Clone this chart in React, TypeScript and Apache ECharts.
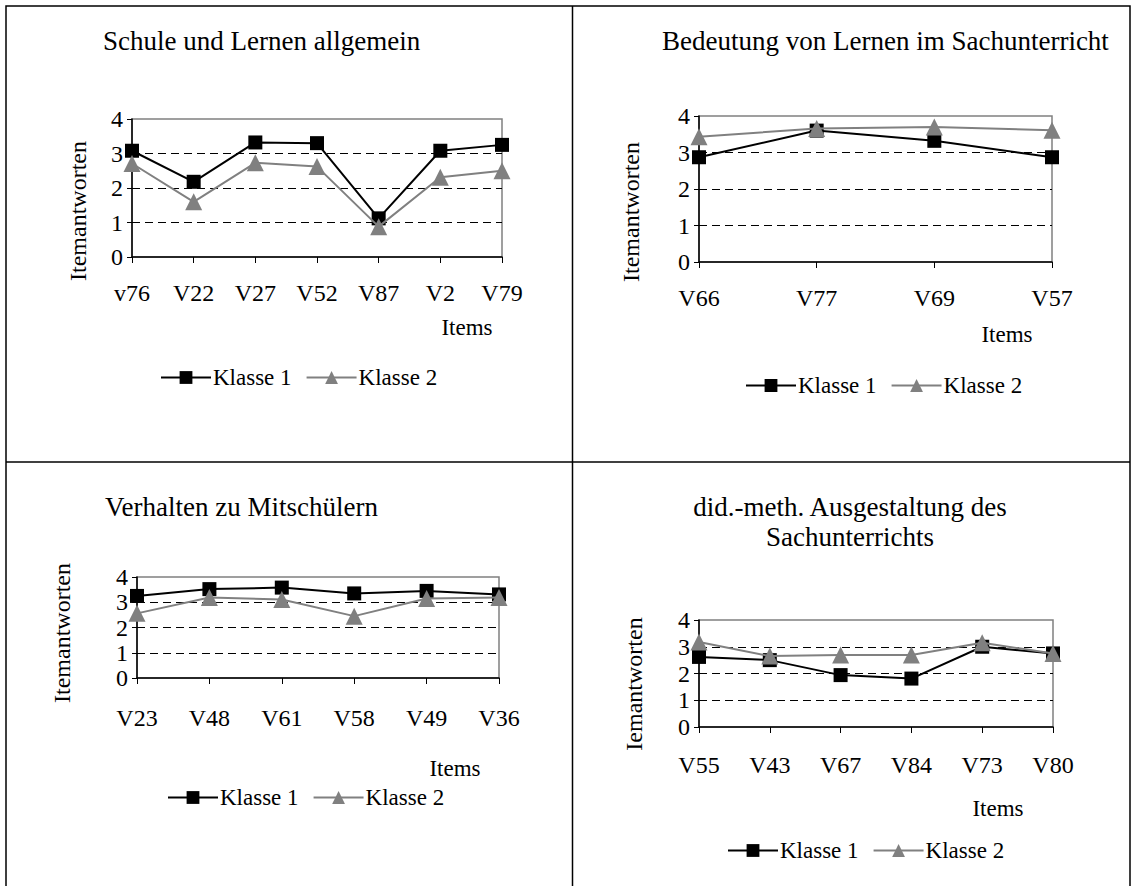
import React, { useEffect, useRef } from "react";
import * as echarts from "echarts";

const seriesNames = ["Klasse 1", "Klasse 2"];
const yTickValues = [0, 1, 2, 3, 4];

const p1Categories = ["v76", "V22", "V27", "V52", "V87", "V2", "V79"];
const p1Klasse1 = [3.08, 2.18, 3.32, 3.3, 1.12, 3.08, 3.25];
const p1Klasse2 = [2.71, 1.6, 2.73, 2.62, 0.88, 2.31, 2.5];

const p2Categories = ["V66", "V77", "V69", "V57"];
const p2Klasse1 = [2.87, 3.6, 3.32, 2.87];
const p2Klasse2 = [3.43, 3.66, 3.7, 3.61];

const p3Categories = ["V23", "V48", "V61", "V58", "V49", "V36"];
const p3Klasse1 = [3.25, 3.52, 3.58, 3.35, 3.45, 3.31];
const p3Klasse2 = [2.56, 3.19, 3.11, 2.45, 3.15, 3.19];

const p4Categories = ["V55", "V43", "V67", "V84", "V73", "V80"];
const p4Klasse1 = [2.62, 2.5, 1.94, 1.81, 3.0, 2.75];
const p4Klasse2 = [3.18, 2.65, 2.69, 2.69, 3.15, 2.75];

const FONT = "'Liberation Serif', 'Times New Roman', serif";
const FS = 23;
const TICK_FS = 24;
const TITLE_FS = 27;
const NAME_FS = 24;

const panels = [
  {
    title: ["Schule und Lernen allgemein"],
    titleX: 103, titleY: 41, titleAlign: "left",
    yName: "Itemantworten",
    cats: p1Categories, k1: p1Klasse1, k2: p1Klasse2,
    grid: { left: 132, top: 119, width: 370, height: 138 },
    labelMargin: 24,
    yNamePos: [78, 211],
    itemsPos: [467, 327],
    legend: { left: 155, top: 361 },
  },
  {
    title: ["Bedeutung von Lernen im Sachunterricht"],
    titleX: 662, titleY: 41, titleAlign: "left",
    yName: "Itemantworten",
    cats: p2Categories, k1: p2Klasse1, k2: p2Klasse2,
    grid: { left: 699, top: 116, width: 353, height: 146 },
    labelMargin: 24,
    yNamePos: [631, 212],
    itemsPos: [1007, 334],
    legend: { left: 740, top: 369 },
  },
  {
    title: ["Verhalten zu Mitschülern"],
    titleX: 105, titleY: 507, titleAlign: "left",
    yName: "Itemantworten",
    cats: p3Categories, k1: p3Klasse1, k2: p3Klasse2,
    grid: { left: 137, top: 577, width: 362, height: 101 },
    labelMargin: 28,
    yNamePos: [62, 633],
    itemsPos: [455, 768],
    legend: { left: 162, top: 781 },
  },
  {
    title: ["did.-meth. Ausgestaltung des", "Sachunterrichts"],
    titleX: 850, titleY: 507, titleAlign: "center",
    yName: "Iemantworten",
    cats: p4Categories, k1: p4Klasse1, k2: p4Klasse2,
    grid: { left: 699, top: 620, width: 354, height: 107 },
    labelMargin: 26,
    yNamePos: [634, 684],
    itemsPos: [998, 808],
    legend: { left: 722, top: 834 },
  },
];

function buildOption() {
  const grids: any[] = [];
  const xAxes: any[] = [];
  const yAxes: any[] = [];
  const series: any[] = [];
  const legends: any[] = [];
  const graphics: any[] = [];

  graphics.push({
    type: "rect",
    shape: { x: 6, y: 6, width: 1124, height: 900 },
    style: { fill: "none", stroke: "#000", lineWidth: 1.5 },
    silent: true,
  });
  graphics.push({
    type: "line",
    shape: { x1: 572.5, y1: 6, x2: 572.5, y2: 900 },
    style: { stroke: "#000", lineWidth: 1.5 },
    silent: true,
  });
  graphics.push({
    type: "line",
    shape: { x1: 6, y1: 462, x2: 1130, y2: 462 },
    style: { stroke: "#000", lineWidth: 1.5 },
    silent: true,
  });

  panels.forEach((p, i) => {
    grids.push({
      ...p.grid,
      show: true,
      borderColor: "#808080",
      borderWidth: 1.5,
      backgroundColor: "transparent",
    });
    xAxes.push({
      type: "category",
      gridIndex: i,
      data: p.cats,
      boundaryGap: false,
      axisLine: { lineStyle: { color: "#000", width: 1.5 } },
      axisTick: { show: true, length: 6, lineStyle: { color: "#000", width: 1 } },
      axisLabel: { color: "#000", fontFamily: FONT, fontSize: TICK_FS, margin: p.labelMargin, interval: 0 },
      splitLine: { show: false },
    });
    yAxes.push({
      type: "value",
      gridIndex: i,
      min: yTickValues[0],
      max: yTickValues[yTickValues.length - 1],
      interval: 1,
      axisLine: { show: true, lineStyle: { color: "#000", width: 1.5 } },
      axisTick: { show: true, length: 5, lineStyle: { color: "#000", width: 1 } },
      axisLabel: { color: "#000", fontFamily: FONT, fontSize: TICK_FS, margin: 9 },
      splitLine: {
        show: true,
        showMinLine: false,
        showMaxLine: false,
        lineStyle: { color: "#000", width: 1, type: [8, 5] },
      },
    });
    series.push({
      name: seriesNames[0],
      type: "line",
      xAxisIndex: i,
      yAxisIndex: i,
      data: p.k1,
      symbol: "rect",
      symbolSize: 14,
      lineStyle: { color: "#000", width: 2 },
      itemStyle: { color: "#000" },
      z: 3,
    });
    series.push({
      name: seriesNames[1],
      type: "line",
      xAxisIndex: i,
      yAxisIndex: i,
      data: p.k2,
      symbol: "triangle",
      symbolSize: 17,
      lineStyle: { color: "#808080", width: 2 },
      itemStyle: { color: "#808080" },
      z: 4,
    });
    legends.push({
      left: p.legend.left,
      top: p.legend.top,
      data: seriesNames,
      itemWidth: 50,
      itemHeight: 16,
      itemGap: 14,
      textStyle: { color: "#000", fontFamily: FONT, fontSize: FS, padding: [0, 0, 0, -3] },
      selectedMode: false,
    });
    p.title.forEach((t, j) => {
      graphics.push({
        type: "text",
        x: p.titleX,
        y: p.titleY + j * 30,
        style: {
          text: t,
          fill: "#000",
          font: `${TITLE_FS}px ${FONT}`,
          textAlign: p.titleAlign,
          textVerticalAlign: "middle",
        },
        silent: true,
      });
    });
    graphics.push({
      type: "text",
      x: p.yNamePos[0],
      y: p.yNamePos[1],
      rotation: Math.PI / 2,
      style: {
        text: p.yName,
        fill: "#000",
        font: `${NAME_FS}px ${FONT}`,
        textAlign: "center",
        textVerticalAlign: "middle",
      },
      silent: true,
    });
    graphics.push({
      type: "text",
      x: p.itemsPos[0],
      y: p.itemsPos[1],
      style: {
        text: "Items",
        fill: "#000",
        font: `${FS}px ${FONT}`,
        textAlign: "center",
        textVerticalAlign: "middle",
      },
      silent: true,
    });
  });

  return {
    animation: false,
    backgroundColor: "#fff",
    grid: grids,
    xAxis: xAxes,
    yAxis: yAxes,
    series,
    legend: legends,
    graphic: graphics,
  };
}

export default function App() {
  const ref = useRef<HTMLDivElement>(null);
  useEffect(() => {
    if (!ref.current) return;
    const chart = echarts.init(ref.current, undefined, { renderer: "svg" });
    chart.setOption(buildOption() as any);
    return () => chart.dispose();
  }, []);
  return (
    <div
      ref={ref}
      style={{ position: "absolute", left: 0, top: 0, width: 1136, height: 886 }}
    />
  );
}
